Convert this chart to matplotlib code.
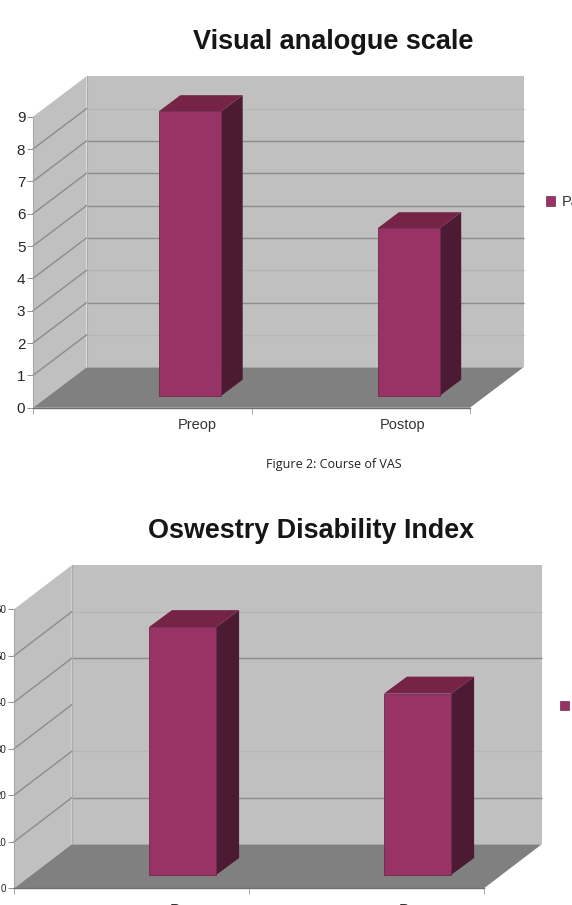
import matplotlib
matplotlib.use("Agg")
from matplotlib import pyplot as plt
from matplotlib.patches import Patch, Polygon

plt.rcParams["font.family"] = ["Liberation Sans", "DejaVu Sans"]

FIG_W, FIG_H = 572, 905

categories = ["Preop", "Postop"]
legend_name = "Pain"

vas_values = [8.8, 5.18]
vas_ticks = [0, 1, 2, 3, 4, 5, 6, 7, 8, 9]
vas_strong_lines = [2, 4, 5, 6, 7]
vas_faint_lines = [1, 3, 8]

odi_values = [53.3, 39.0]
odi_ticks = [0, 10, 20, 30, 40, 50, 60]
odi_strong_lines = [10, 40]
odi_faint_lines = [20, 50]

WALL = "#c0c0c0"
FLOOR = "#808080"
FRONT = "#993366"
TOP = "#762348"
SIDE = "#4d1a33"
LINE = "#8c8c8c"
FAINT = "#b6b6b6"


def draw_chart(left, right, bottom, top, depth, values, ticks, strong, faint, bar_w,
               bar_shift, bar_depth, label_x, title, title_x, title_y, title_size,
               tick_size, cat_size, cat_y, legend_xy, legend_size):
    """fake 3d bars, front plane of the box is the real axes"""
    ax = fig.add_axes([left / FIG_W, 1 - bottom / FIG_H,
                       (right - left) / FIG_W, (bottom - top) / FIG_H])
    ymax = ticks[-1]
    ax.set_xlim(0, 2)
    ax.set_ylim(0, ymax)
    ax.patch.set_visible(False)

    # convert pixel depth to data units
    x_per_px = 2 / (right - left)
    y_per_px = ymax / (bottom - top)
    dx = depth[0] * x_per_px
    dy = depth[1] * y_per_px

    def poly(points, color, edge="none", lw=0.0, z=1):
        ax.add_patch(Polygon(points, closed=True, facecolor=color, edgecolor=edge,
                             linewidth=lw, clip_on=False, zorder=z))

    poly([(0, 0), (dx, dy), (dx, ymax + dy), (0, ymax)], WALL)
    poly([(dx, dy), (2 + dx, dy), (2 + dx, ymax + dy), (dx, ymax + dy)], WALL)
    poly([(0, 0), (2, 0), (2 + dx, dy), (dx, dy)], FLOOR)

    for t in ticks[1:-1]:
        ax.plot([0, dx], [t, t + dy], color=LINE, lw=1.0, clip_on=False, zorder=2)
        if t in strong or t in faint:
            color = LINE if t in strong else FAINT
            ax.plot([dx, 2 + dx], [t + dy, t + dy], color=color, lw=1.0,
                    solid_capstyle="butt", clip_on=False, zorder=2)
    ax.plot([dx, dx], [dy, ymax + dy], color="#ababab", lw=0.8, clip_on=False, zorder=2)

    # bars
    w = bar_w * x_per_px
    bx = bar_depth[0] * x_per_px
    by = bar_depth[1] * y_per_px
    base = bar_depth[2] * y_per_px
    for i, val in enumerate(values):
        x0 = i + 0.5 + bar_shift * x_per_px - w / 2
        x1 = x0 + w
        y0 = base
        y1 = base + val
        poly([(x1, y0), (x1 + bx, y0 + by), (x1 + bx, y1 + by), (x1, y1)], SIDE, z=3)
        poly([(x0, y1), (x1, y1), (x1 + bx, y1 + by), (x0 + bx, y1 + by)], TOP, z=3)
        poly([(x0, y0), (x1, y0), (x1, y1), (x0, y1)], FRONT, "#6e2a4e", 0.6, z=4)

    for side in ("top", "right"):
        ax.spines[side].set_visible(False)
    ax.spines["left"].set_color("#a8a8a8")
    ax.spines["bottom"].set_color("#707070")
    ax.spines["left"].set_linewidth(0.8)
    ax.spines["bottom"].set_linewidth(1.0)

    ax.set_yticks(ticks)
    ax.tick_params(axis="y", labelsize=tick_size, length=4, width=0.7, color="#909090",
                   labelcolor="#262626", pad=1.5)
    ax.set_xticks([0, 1, 2])
    ax.set_xticklabels([])
    ax.tick_params(axis="x", length=4.5, width=0.7, color="#a8a8a8")
    for name, px in zip(categories, label_x):
        ax.text((px - left) * x_per_px, (bottom - cat_y) / (bottom - top),
                name, transform=ax.get_xaxis_transform(), ha="center", va="center",
                fontsize=cat_size, color="#333333", clip_on=False)

    fig.text(title_x / FIG_W, 1 - title_y / FIG_H, title, ha="center", va="center",
             fontsize=title_size, fontweight="bold", color="#161616")

    fig.legend(handles=[Patch(facecolor=FRONT, edgecolor="#6e2a4e", linewidth=0.5,
                              label=legend_name)],
               loc="center left", frameon=False, fontsize=legend_size,
               bbox_to_anchor=(legend_xy[0] / FIG_W, 1 - legend_xy[1] / FIG_H),
               handlelength=0.62, handleheight=0.62, handletextpad=0.48,
               borderpad=0, borderaxespad=0, labelcolor="#333333")
    return ax


fig = plt.figure(figsize=(FIG_W / 100, FIG_H / 100), dpi=100, facecolor="white")

draw_chart(33, 470, 407.7, 116.7, (53.5, 40.4), vas_values, vas_ticks, vas_strong_lines,
           vas_faint_lines, bar_w=62.3, bar_shift=48, bar_depth=(21.3, 16, 12),
           label_x=(197, 403), title="Visual analogue scale", title_x=333.5, title_y=42,
           title_size=19.5, tick_size=11, cat_size=10.5, cat_y=425, legend_xy=(546, 202),
           legend_size=10.5)

draw_chart(14, 484, 888.3, 609.3, (57.7, 44), odi_values, odi_ticks, odi_strong_lines,
           odi_faint_lines, bar_w=67.2, bar_shift=51, bar_depth=(23, 17, 13.3),
           label_x=(191, 423.5), title="Oswestry Disability Index", title_x=311.5, title_y=531,
           title_size=19.4, tick_size=7, cat_size=11.3, cat_y=911, legend_xy=(560, 706.5),
           legend_size=10.5)

fig.text(333.5 / FIG_W, 1 - 464 / FIG_H, "Figure 2: Course of VAS", ha="center", va="center",
         fontsize=9, color="#222222", family=["Open Sans", "DejaVu Sans"])

fig.savefig("out.png", dpi=100)
